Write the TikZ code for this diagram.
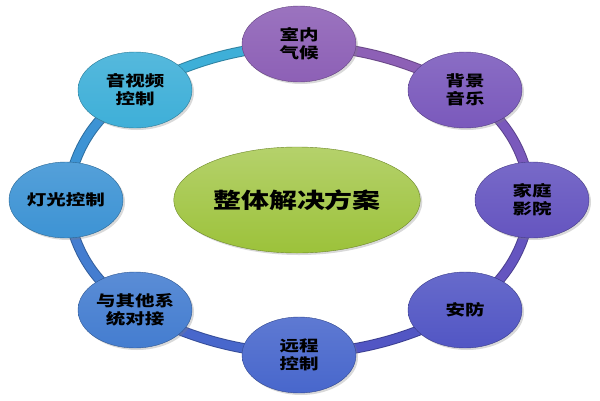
\documentclass[tikz,border=0pt]{standalone}
\usepackage{fontspec}
\newfontfamily\cjk[FakeStretch=1.3]{Noto Sans CJK SC}
\usepackage{xcolor}
\usetikzlibrary{shapes.geometric}
\usetikzlibrary{shadows}
\usetikzlibrary{backgrounds}

\definecolor{cShinei}{HTML}{8D60B6}
\definecolor{cBeijing}{HTML}{7A59BC}
\definecolor{cJiating}{HTML}{6555C0}
\definecolor{cAnfang}{HTML}{5256C4}
\definecolor{cYuancheng}{HTML}{4867CC}
\definecolor{cQita}{HTML}{447DD0}
\definecolor{cDeng}{HTML}{3D93D4}
\definecolor{cYinshi}{HTML}{3EAFD8}
\definecolor{cCenter}{HTML}{9CC23A}

\tikzset{
    unit/.style={ellipse, minimum width=114pt, minimum height=76pt, inner sep=0pt,
        align=center, top color=#1!88!white, bottom color=#1, draw=#1!70!black,
        font=\cjk\bfseries\fontsize{15}{18}\selectfont,
        drop shadow={opacity=0.3, shadow xshift=2pt, shadow yshift=-2pt}},
    ring/.style={draw=#1!75!black, line width=1pt, double=#1, double distance=8.5pt}
}

\begin{document}
\begin{tikzpicture}[x=1pt, y=-1pt]
                \useasboundingbox (0,0) rectangle (600,400);
                \def\bendFlat{11}
                \def\bendSteep{24}
                % centre
                \node[ellipse, minimum width=243pt, minimum height=106pt,
                    top color=cCenter!75!white, bottom color=cCenter, draw=cCenter!70!black,
                    drop shadow={opacity=0.3, shadow xshift=2pt, shadow yshift=-2pt},
                    font=\cjk\bfseries\fontsize{21.5}{24}\selectfont] (plan) at (297,200) {整体解决方案};
                % ring of units
                \node[unit=cShinei] (shinei) at (299,44) {室内\\气候};
                \node[unit=cBeijing] (beijing) at (465,90) {背景\\音乐};
                \node[unit=cJiating] (jiating) at (532,200) {家庭\\影院};
                \node[unit=cAnfang] (anfang) at (465,310) {安防};
                \node[unit=cYuancheng] (yuancheng) at (299,355) {远程\\控制};
                \node[unit=cQita] (qita) at (135,310) {与其他系\\统对接};
                \node[unit=cDeng] (deng) at (66,200) {灯光控制};
                \node[unit=cYinshi] (yinshi) at (135,90) {音视频\\控制};
                \begin{scope}[on background layer]
                    \draw[ring=cShinei] (shinei.center) to[bend left=\bendFlat] (beijing.center);
                    \draw[ring=cBeijing] (beijing.center) to[bend left=\bendSteep] (jiating.center);
                    \draw[ring=cJiating] (jiating.center) to[bend left=\bendSteep] (anfang.center);
                    \draw[ring=cAnfang] (anfang.center) to[bend left=\bendFlat] (yuancheng.center);
                    \draw[ring=cYuancheng] (yuancheng.center) to[bend left=\bendFlat] (qita.center);
                    \draw[ring=cQita] (qita.center) to[bend left=\bendSteep] (deng.center);
                    \draw[ring=cDeng] (deng.center) to[bend left=\bendSteep] (yinshi.center);
                    \draw[ring=cYinshi] (yinshi.center) to[bend left=\bendFlat] (shinei.center);
                \end{scope}
            \end{tikzpicture}
\end{document}
